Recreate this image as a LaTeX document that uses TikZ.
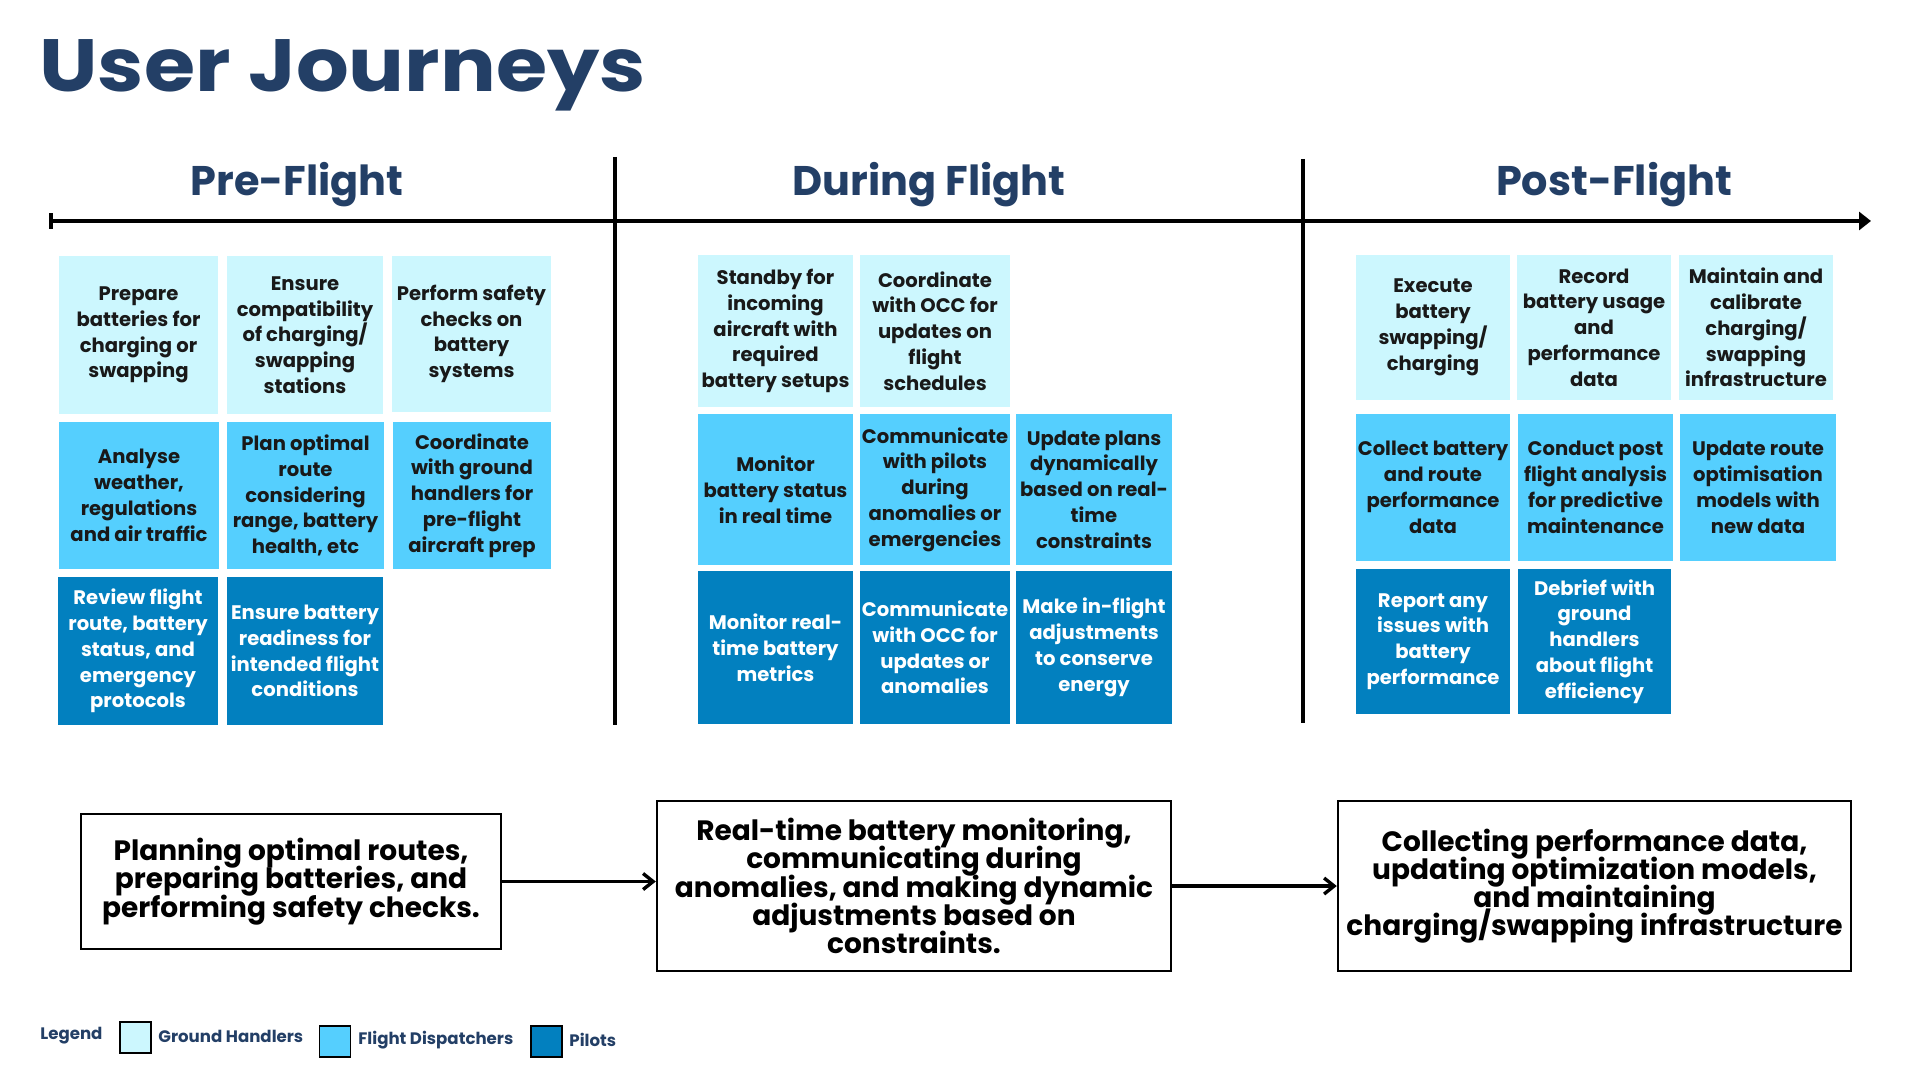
\documentclass[tikz,border=0pt]{standalone}
\usepackage{fontspec}
\setmainfont{Poppins}
\usetikzlibrary{arrows.meta}
\definecolor{ghc}{HTML}{CCF7FE}
\definecolor{fdc}{HTML}{55CFFE}
\definecolor{plc}{HTML}{0280BF}
\definecolor{navy}{HTML}{233F66}
\newcommand\jb[7]{\node[#6, minimum width={(#4-#2)*0.5pt}, minimum height={(#5-#3)*0.5pt}] (#1) at ({(#2+#4)/2},{(#3+#5)/2}) {#7};}
\newcommand\tightlines{\lineskiplimit=-100pt\relax\lineskip=0pt\relax}
\tikzset{
  box/.style={rectangle, inner sep=0pt, align=center, font=\bfseries\fontsize{9.8}{12.9}\selectfont},
  gh/.style={box, fill=ghc, text=black!90},
  fd/.style={box, fill=fdc, text=black!90},
  pl/.style={box, fill=plc, text=white},
  phase/.style={text=navy, inner sep=0pt, font=\bfseries\fontsize{20.7}{24}\selectfont},
  sumbox/.style={rectangle, draw=black, line width=1.2pt, inner sep=0pt, align=center, font=\bfseries\fontsize{14}{14.1}\selectfont\tightlines},
  flow/.style={line width=1.7pt, -{Straight Barb[length=5pt,width=8pt]}},
  legtext/.style={text=navy, inner sep=0pt, anchor=west, font=\bfseries\fontsize{8.3}{10}\selectfont},
  swatch/.style={rectangle, draw=black, line width=0.6pt, inner sep=0pt, minimum width=15.5pt, minimum height=15.5pt}
}
\begin{document}
\begin{tikzpicture}[x=0.5pt,y=-0.5pt]
\useasboundingbox (0,0) rectangle (1920,1080);
\fill[white] (0,0) rectangle (1920,1080);
% title
\node[anchor=base west, text=navy, font=\bfseries\fontsize{37}{37}\selectfont, inner sep=0pt, xscale=1.12] (title) at (39,92) {User Journeys};
% phases
\node[phase] (hpre) at (297,185) {Pre-Flight};
\node[phase] (hdur) at (929,185) {During Flight};
\node[phase] (hpost) at (1614,185) {Post-Flight};
% timeline
\coordinate (tl0) at (49,221);
\coordinate (tl1) at (1871,221);
\draw[line width=2.2pt, {Bar[width=8pt]}-{Triangle[length=6pt,width=9pt]}] (tl0) -- (tl1);
\coordinate (v1a) at (615,157); \coordinate (v1b) at (615,725);
\coordinate (v2a) at (1303,159); \coordinate (v2b) at (1303,723);
\draw[line width=2pt] (v1a) -- (v1b);
\draw[line width=2pt] (v2a) -- (v2b);
% pre-flight
\jb{p11}{59}{256}{218}{414}{gh}{Prepare\\batteries for\\charging or\\swapping}
\jb{p12}{227}{256}{383}{414}{gh}{Ensure\\compatibility\\of charging/\\swapping\\stations}
\jb{p13}{392}{256}{551}{412}{gh}{Perform safety\\checks on\\battery\\systems}
\jb{p21}{59}{422}{219}{569}{fd}{Analyse\\weather,\\regulations\\and air traffic}
\jb{p22}{227}{422}{384}{569}{fd}{Plan optimal\\route\\considering\\range, battery\\health, etc}
\jb{p23}{393}{422}{551}{569}{fd}{Coordinate\\with ground\\handlers for\\pre-flight\\aircraft prep}
\jb{p31}{58}{577}{218}{725}{pl}{Review flight\\route, battery\\status, and\\emergency\\protocols}
\jb{p32}{227}{577}{383}{725}{pl}{Ensure battery\\readiness for\\intended flight\\conditions}
% during flight
\jb{d11}{698}{255}{853}{407}{gh}{Standby for\\incoming\\aircraft with\\required\\battery setups}
\jb{d12}{860}{255}{1010}{407}{gh}{Coordinate\\with OCC for\\updates on\\flight\\schedules}
\jb{d21}{698}{414}{853}{565}{fd}{Monitor\\battery status\\in real time}
\jb{d22}{860}{414}{1010}{565}{fd}{Communicate\\with pilots\\during\\anomalies or\\emergencies}
\jb{d23}{1016}{414}{1172}{565}{fd}{Update plans\\dynamically\\based on real-\\time\\constraints}
\jb{d31}{698}{571}{853}{724}{pl}{Monitor real-\\time battery\\metrics}
\jb{d32}{860}{571}{1010}{724}{pl}{Communicate\\with OCC for\\updates or\\anomalies}
\jb{d33}{1016}{571}{1172}{724}{pl}{Make in-flight\\adjustments\\to conserve\\energy}
% post flight
\jb{q11}{1356}{255}{1510}{400}{gh}{Execute\\battery\\swapping/\\charging}
\jb{q12}{1517}{255}{1671}{400}{gh}{Record\\battery usage\\and\\performance\\data}
\jb{q13}{1679}{255}{1833}{400}{gh}{Maintain and\\calibrate\\charging/\\swapping\\infrastructure}
\jb{q21}{1356}{414}{1510}{561}{fd}{Collect battery\\and route\\performance\\data}
\jb{q22}{1518}{414}{1673}{561}{fd}{Conduct post\\flight analysis\\for predictive\\maintenance}
\jb{q23}{1680}{414}{1836}{561}{fd}{Update route\\optimisation\\models with\\new data}
\jb{q31}{1356}{569}{1510}{714}{pl}{Report any\\issues with\\battery\\performance}
\jb{q32}{1518}{569}{1671}{714}{pl}{Debrief with\\ground\\handlers\\about flight\\efficiency}
% summaries
\jb{sa}{81}{814}{501}{949}{sumbox}{Planning optimal routes,\\preparing batteries, and\\performing safety checks.}
\jb{sb}{657}{801}{1171}{971}{sumbox}{Real-time battery monitoring,\\communicating during\\anomalies, and making dynamic\\adjustments based on\\constraints.}
\jb{sc}{1338}{801}{1851}{971}{sumbox}{Collecting performance data,\\updating optimization models,\\and maintaining\\charging/swapping infrastructure}
\draw[flow] (sa.east) -- (sa.east -| sb.west);
\draw[flow] (sb.east) -- (sc.west);
% legend
\node[legtext] (leg) at (40,1036) {Legend};
\node[swatch, fill=ghc] (s1) at (135.5,1037.5) {};
\node[legtext] (l1) at (158,1036) {Ground Handlers};
\node[swatch, fill=fdc] (s2) at (335,1041.5) {};
\node[legtext] (l2) at (358,1040) {Flight Dispatchers};
\node[swatch, fill=plc] (s3) at (546.5,1041.5) {};
\node[legtext] (l3) at (569,1040) {Pilots};
\end{tikzpicture}
\end{document}
